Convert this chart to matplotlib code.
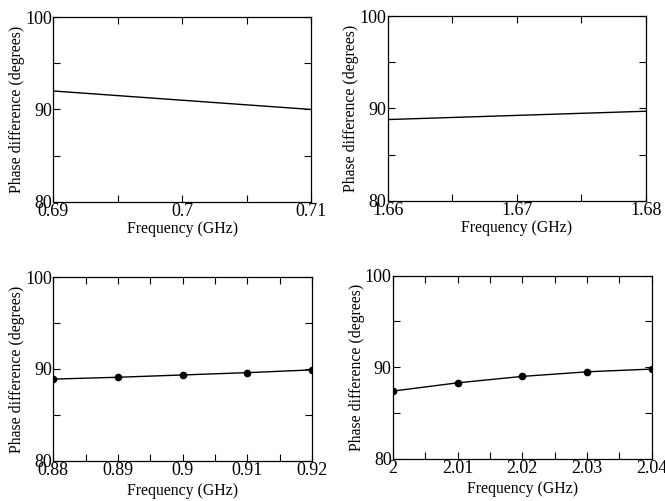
import matplotlib
matplotlib.use("Agg")
import matplotlib.pyplot as plt
from matplotlib.ticker import FuncFormatter, MultipleLocator

plt.rcParams['font.family'] = ['Liberation Serif', 'DejaVu Serif']
plt.rcParams['font.size'] = 11

# panel data
f1 = [0.69, 0.71]
p1 = [92.0, 90.0]

f2 = [1.66, 1.68]
p2 = [88.8, 89.7]

f3 = [0.88, 0.89, 0.90, 0.91, 0.92]
p3 = [88.9, 89.1, 89.35, 89.6, 89.9]

f4 = [2.00, 2.01, 2.02, 2.03, 2.04]
p4 = [87.4, 88.3, 89.0, 89.5, 89.8]

fig = plt.figure(figsize=(6.65, 5.01), dpi=100)

# rect, x, y, markers, x step, xlabel pad
panels = [
    ([0.080, 0.597, 0.388, 0.369], f1, p1, False, 0.01, 0.5),
    ([0.583, 0.599, 0.388, 0.369], f2, p2, False, 0.01, 0.5),
    ([0.080, 0.080, 0.389, 0.367], f3, p3, True, 0.01, 3),
    ([0.591, 0.084, 0.389, 0.366], f4, p4, True, 0.01, 2.5),
]

fmt = FuncFormatter(lambda v, pos: '%g' % round(v, 4))

for rect, x, y, markers, step, xpad in panels:
    ax = fig.add_axes(rect)
    if markers:
        ax.plot(x, y, color='black', lw=1, marker='o', ms=4.5)
    else:
        ax.plot(x, y, color='black', lw=1)
    ax.set_xlim(x[0], x[-1])
    ax.set_ylim(80, 100)
    ax.xaxis.set_major_locator(MultipleLocator(step))
    ax.xaxis.set_minor_locator(MultipleLocator(step / 2))
    ax.yaxis.set_major_locator(MultipleLocator(10))
    ax.yaxis.set_minor_locator(MultipleLocator(5))
    ax.xaxis.set_major_formatter(fmt)
    ax.tick_params(which='both', direction='in', top=True, right=True,
                   length=5, width=0.8, labelsize=13)
    ax.tick_params(axis='x', pad=1)
    ax.tick_params(axis='y', pad=1)
    for s in ax.spines.values():
        s.set_linewidth(0.9)
    ax.set_xlabel('Frequency (GHz)', fontsize=11.3, labelpad=xpad)
    ax.set_ylabel('Phase difference (degrees)', fontsize=11.3, labelpad=0)

fig.savefig('out.png', dpi=100)
